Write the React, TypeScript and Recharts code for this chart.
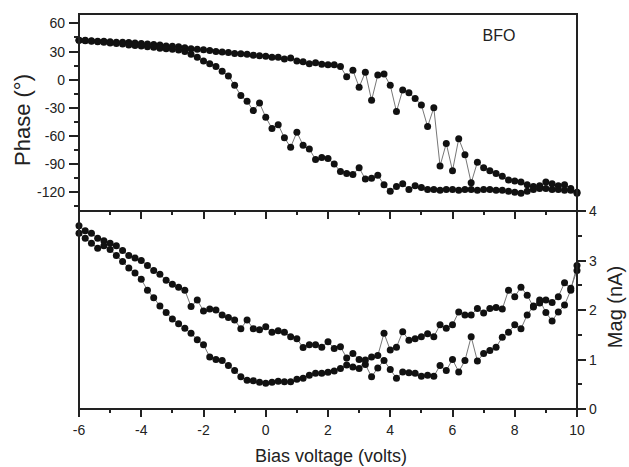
import React from 'react';
import { LineChart, Line, XAxis, YAxis } from 'recharts';

// bias voltage grid (V)
const voltage = [
  -6, -5.8, -5.6, -5.4, -5.2, -5, -4.8, -4.6, -4.4, -4.2, -4,
  -3.8, -3.6, -3.4, -3.2, -3, -2.8, -2.6, -2.4, -2.2, -2,
  -1.8, -1.6, -1.4, -1.2, -1, -0.8, -0.6, -0.4, -0.2, 0,
  0.2, 0.4, 0.6, 0.8, 1, 1.2, 1.4, 1.6, 1.8, 2,
  2.2, 2.4, 2.6, 2.8, 3, 3.2, 3.4, 3.6, 3.8, 4,
  4.2, 4.4, 4.6, 4.8, 5, 5.2, 5.4, 5.6, 5.8, 6,
  6.2, 6.4, 6.6, 6.8, 7, 7.2, 7.4, 7.6, 7.8, 8,
  8.2, 8.4, 8.6, 8.8, 9, 9.2, 9.4, 9.6, 9.8, 10,
];

// phase (deg), upper and lower branch of the loop
const phaseUp = [
  42, 42, 41.5, 41, 41, 40.5, 40, 40, 39.5, 39, 38.5,
  38, 37.5, 37, 36, 35.5, 35, 34, 33, 32.5, 32,
  31, 30, 29.5, 29, 28, 27.5, 27, 26, 25.5, 25,
  24, 24, 22, 23, 20, 19, 17, 18, 16.5, 16,
  16, 14, 3, 10, -8, 8, -22, 5, 6, -6,
  -34, -11, -14, -20, -27, -50, -30, -92, -68, -97,
  -63, -80, -110, -88, -94, -97, -100, -103, -107, -108,
  -109, -112, -114, -113, -109, -111, -113, -112, -116, -120,
];
const phaseDown = [
  42, 41.5, 41, 40.5, 40, 39, 38.5, 38, 37, 36.5, 36,
  35, 34.5, 33.5, 33, 32.5, 31.5, 30, 27, 24, 20,
  17, 14, 9, 4, -6, -17, -23, -33, -25, -40,
  -52, -48, -62, -72, -56, -70, -74, -85, -83, -84,
  -90, -98, -100, -101, -94, -106, -105, -102, -112, -119,
  -114, -111, -117, -113, -115, -117, -117, -118, -117, -117,
  -118, -117, -117, -118, -117, -117, -118, -118, -119, -120,
  -121, -119, -117, -116, -116, -117, -117, -118, -118, -121,
];

// magnitude (nA)
const magUp = [
  3.7, 3.6, 3.55, 3.45, 3.4, 3.35, 3.3, 3.2, 3.1, 3.05, 3.0,
  2.9, 2.8, 2.72, 2.6, 2.52, 2.46, 2.4, 2.07, 2.2, 1.98,
  2.02, 2.0, 1.9, 1.85, 1.8, 1.62, 1.8, 1.62, 1.6, 1.66,
  1.55, 1.58, 1.55, 1.46, 1.42, 1.24, 1.3, 1.3, 1.25, 1.36,
  1.22, 1.26, 1.03, 1.12, 1.0, 0.9, 0.65, 0.83, 0.98, 0.8,
  0.62, 0.75, 0.73, 0.72, 0.66, 0.68, 0.66, 0.88, 0.78, 1.0,
  0.75, 0.98, 1.46, 0.97, 1.12, 1.18, 1.25, 1.45, 1.55, 1.7,
  1.62, 1.9, 2.08, 2.2, 1.95, 1.78, 1.96, 2.1, 2.4, 2.9,
];
const magDown = [
  3.55, 3.45, 3.35, 3.25, 3.3, 3.22, 3.1, 2.98, 2.85, 2.75, 2.62,
  2.4, 2.25, 2.08, 1.95, 1.82, 1.72, 1.63, 1.53, 1.4, 1.3,
  1.05, 1.0, 0.98, 0.88, 0.78, 0.65, 0.58, 0.57, 0.54, 0.52,
  0.54, 0.56, 0.55, 0.55, 0.6, 0.62, 0.68, 0.72, 0.72, 0.74,
  0.77, 0.82, 0.89, 0.85, 0.82, 0.99, 1.05, 1.08, 1.53, 1.19,
  1.25, 1.56, 1.39, 1.42, 1.46, 1.52, 1.46, 1.7, 1.63, 1.7,
  1.96, 1.9, 1.9, 2.03, 1.94, 2.03, 2.05, 2.02, 2.4, 2.27,
  2.46, 2.3, 2.06, 2.14, 2.2, 2.15, 2.27, 2.55, 2.44, 2.8,
];

const phaseTicks = [60, 45, 30, 15, 0, -15, -30, -45, -60, -75, -90, -105, -120, -135];
const magTicks = [0, 0.5, 1, 1.5, 2, 2.5, 3, 3.5, 4];
const voltTicks = [-6, -5, -4, -3, -2, -1, 0, 1, 2, 3, 4, 5, 6, 7, 8, 9, 10];

const phaseRows = voltage.map((v, i) => ({ v, up: phaseUp[i], down: phaseDown[i] }));
const magRows = voltage.map((v, i) => ({ v, up: magUp[i], down: magDown[i] }));

const FONT = '"Liberation Sans", Arial, sans-serif';
const AX = '#222';
const dotStyle = { r: 3.5, fill: '#111', stroke: '#111', strokeWidth: 0 };

// plot box on the page
const PL = 79, PR = 577, PT = 14, PM = 211, PB = 409;
const vx = (v: number) => PL + ((v + 6) * (PR - PL)) / 16;
const py = (p: number) => PT + ((70 - p) * (PM - PT)) / 210;
const my = (m: number) => PB - (m * (PB - PM)) / 4;

const isMajorPhase = (t: number) => t % 30 === 0;
const isMajorMag = (t: number) => Number.isInteger(t);
const isMajorVolt = (t: number) => t % 2 === 0;

const PhaseTick = (p: any) =>
  isMajorPhase(p.payload.value) ? (
    <text x={Number(p.x) - 14} y={p.y} textAnchor="end" dominantBaseline="central" fontSize={14} fontFamily={FONT} fill="#222">
      {p.payload.value}
    </text>
  ) : <g />;

const MagTick = (p: any) =>
  isMajorMag(p.payload.value) ? (
    <text x={Number(p.x) + 12} y={p.y} textAnchor="start" dominantBaseline="central" fontSize={14} fontFamily={FONT} fill="#222">
      {p.payload.value}
    </text>
  ) : <g />;

const VoltTick = (p: any) =>
  isMajorVolt(p.payload.value) ? (
    <text x={p.x} y={Number(p.y) + 21} textAnchor="middle" dominantBaseline="central" fontSize={14} fontFamily={FONT} fill="#222">
      {p.payload.value}
    </text>
  ) : <g />;

const mark = (left: number, top: number, width: number, height: number): React.CSSProperties => ({
  position: 'absolute', left, top, width, height, background: AX,
});

const label = (extra: React.CSSProperties): React.CSSProperties => ({
  position: 'absolute',
  whiteSpace: 'nowrap',
  fontFamily: FONT,
  color: '#222',
  transform: 'translate(-50%, -50%)',
  ...extra,
});

const frame = (top: number, height: number): React.CSSProperties => ({
  position: 'absolute',
  left: 78,
  top,
  width: 500,
  height,
  boxSizing: 'border-box',
  border: `2px solid ${AX}`,
  pointerEvents: 'none',
});

export default function App() {
  return (
    <div style={{ position: 'absolute', left: 0, top: 0, width: 629, height: 467, background: '#fff' }}>
      <div style={{ position: 'absolute', left: 0, top: 0 }}>
        <LineChart width={629} height={215} data={phaseRows} margin={{ top: 14, right: 52, bottom: 4, left: 0 }}>
          <XAxis dataKey="v" type="number" orientation="top" domain={[-6, 10]} height={0} tick={false} tickLine={false} axisLine={false} />
          <YAxis type="number" domain={[-140, 70]} ticks={phaseTicks} interval={0} width={79} tickSize={0} tickMargin={0}
            tickLine={false} tick={PhaseTick} axisLine={false} />
          <Line dataKey="up" type="linear" stroke="#777" strokeWidth={1} dot={dotStyle} isAnimationActive={false} />
          <Line dataKey="down" type="linear" stroke="#777" strokeWidth={1} dot={dotStyle} isAnimationActive={false} />
        </LineChart>
      </div>
      <div style={{ position: 'absolute', left: 0, top: 200 }}>
        <LineChart width={629} height={267} data={magRows} margin={{ top: 11, right: 0, bottom: 0, left: 79 }}>
          <XAxis xAxisId="b" dataKey="v" type="number" domain={[-6, 10]} ticks={voltTicks} interval={0} height={58}
            tickSize={0} tickMargin={0} tickLine={false} tick={VoltTick} axisLine={false} />
          <YAxis yAxisId="m" orientation="right" type="number" domain={[0, 4]} ticks={magTicks} interval={0} width={52}
            tickSize={0} tickMargin={0} tickLine={false} tick={MagTick} axisLine={false} />
          <Line xAxisId="b" yAxisId="m" dataKey="up" type="linear" stroke="#777" strokeWidth={1} dot={dotStyle} isAnimationActive={false} />
          <Line xAxisId="b" yAxisId="m" dataKey="down" type="linear" stroke="#777" strokeWidth={1} dot={dotStyle} isAnimationActive={false} />
        </LineChart>
      </div>

      <div style={frame(13, 199)} />
      <div style={frame(210, 200)} />

      {/* tick marks */}
      {phaseTicks.map((t) => {
        const len = isMajorPhase(t) ? 10 : 5;
        return <div key={`p${t}`} style={mark(PL - len, Math.round(py(t)) - 1, len, 2)} />;
      })}
      {voltTicks.map((t) => {
        const len = isMajorVolt(t) ? 8 : 4;
        return <div key={`b${t}`} style={mark(Math.round(vx(t)) - 1, PB, 2, len)} />;
      })}
      {voltTicks.map((t) => {
        const len = isMajorVolt(t) ? 8 : 4;
        return <div key={`t${t}`} style={mark(Math.round(vx(t)) - 1, PM, 2, len)} />;
      })}
      {magTicks.map((t) => {
        const len = isMajorMag(t) ? 9 : 5;
        return <div key={`m${t}`} style={mark(PR, Math.round(my(t)) - 1, len, 2)} />;
      })}

      <div style={label({ left: 23, top: 120, fontSize: 22, transform: 'translate(-50%, -50%) rotate(-90deg)' })}>Phase (°)</div>
      <div style={label({ left: 615, top: 307, fontSize: 20, transform: 'translate(-50%, -50%) rotate(-90deg)' })}>Mag (nA)</div>
      <div style={label({ left: 331, top: 456, fontSize: 18 })}>Bias voltage (volts)</div>
      <div style={label({ left: 499, top: 36, fontSize: 16 })}>BFO</div>
    </div>
  );
}
